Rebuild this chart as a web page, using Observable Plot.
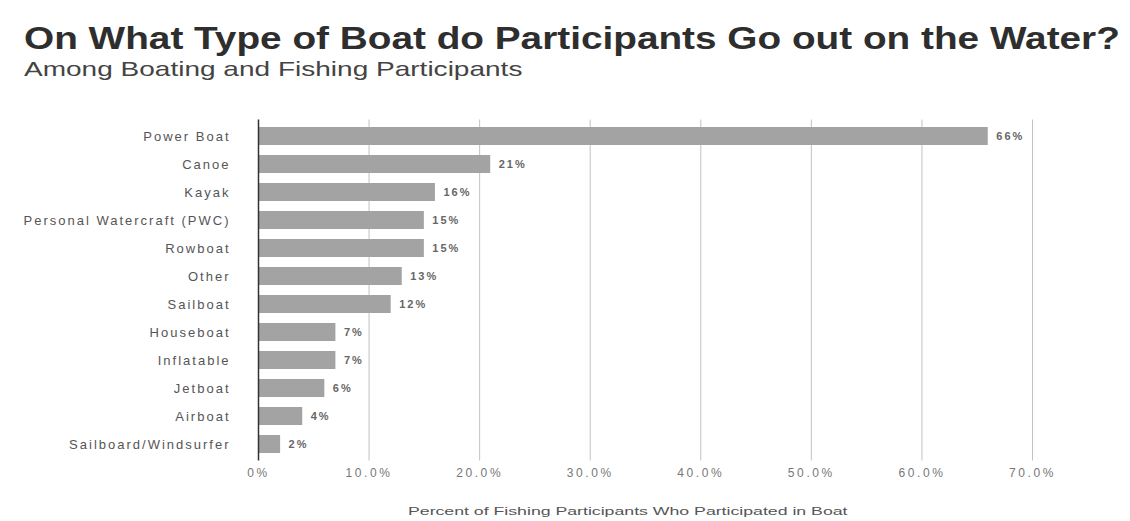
<!DOCTYPE html>
<html><head><meta charset="utf-8">
<script src="https://cdn.jsdelivr.net/npm/d3@7"></script>
<script src="https://cdn.jsdelivr.net/npm/@observablehq/plot@0.6"></script>
<style>
body{margin:0;background:#fff;font-family:"Liberation Sans",Arial,sans-serif;}
#wrap{position:relative;width:1130px;height:521px;overflow:hidden;}
.hd{position:absolute;white-space:nowrap;transform-origin:0 0;}
#title{left:24px;top:20px;font-size:32px;font-weight:bold;color:#2e2e2e;}
#subtitle{left:24px;top:57px;font-size:21px;color:#444;}
#chart{position:absolute;left:0;top:90px;}
#caption{top:505px;font-size:11px;color:#555;}
</style></head>
<body><div id="wrap">
<div id="title" class="hd">On What Type of Boat do Participants Go out on the Water?</div>
<div id="subtitle" class="hd">Among Boating and Fishing Participants</div>
<div id="chart"></div>
<div id="caption" class="hd">Percent of Fishing Participants Who Participated in Boat</div>
</div>
<script>
const categories = ["Power Boat","Canoe","Kayak","Personal Watercraft (PWC)","Rowboat","Other","Sailboat","Houseboat","Inflatable","Jetboat","Airboat","Sailboard/Windsurfer"];
const values = [66,21,16,15,15,13,12,7,7,6,4,2];
const xTicks = [0,10,20,30,40,50,60,70];
const data = categories.map((c,i)=>({type:c, value:values[i]}));
const fmt = d=> d===0 ? "0%" : d.toFixed(1)+"%";

const chart = Plot.plot({
  width:1130, height:390,
  marginLeft:258, marginRight:98, marginTop:29.5, marginBottom:19.5,
  style:{fontFamily:"Liberation Sans, Arial, sans-serif", background:"transparent"},
  x:{domain:[0,70], ticks:xTicks, tickFormat:fmt},
  y:{domain:categories, paddingInner:0.36, paddingOuter:0.2},
  marks:[
    Plot.ruleX(xTicks.filter(d=>d>0), {stroke:"#c2c2c2", strokeWidth:1}),
    Plot.barX(data, {x:"value", y:"type", fill:"#a3a3a3"}),
    Plot.ruleX([0], {stroke:"#333", strokeWidth:1.5}),
    Plot.text(data, {x:"value", y:"type", text:d=>d.value+"%", textAnchor:"start", dx:8, fontSize:11, fontWeight:"bold", fill:"#666", style:"letter-spacing:2px"}),
    Plot.axisX({ticks:xTicks, tickFormat:fmt, tickSize:0, tickPadding:7, fontSize:12, color:"#777", label:null}),
    Plot.axisY({tickSize:0, tickPadding:28, fontSize:13, color:"#555", label:null})
  ]
});
document.getElementById("chart").appendChild(chart);
// widen axis text spacing to match the stretched look of the reference
chart.querySelectorAll('[aria-label="y-axis tick label"] text').forEach(t=>t.style.letterSpacing="2px");
chart.querySelectorAll('[aria-label="x-axis tick label"] text').forEach(t=>t.style.letterSpacing="2.6px");
chart.querySelectorAll('[aria-label="text"] text').forEach(t=>t.style.letterSpacing="2px");

function fit(id, left, target){
  const el=document.getElementById(id);
  const w=el.offsetWidth;
  el.style.left=left+"px";
  el.style.transform="scaleX("+(target/w)+")";
}
fit("title",24,1096);
fit("subtitle",24,499);
fit("caption",408,439);
</script>
</body></html>
